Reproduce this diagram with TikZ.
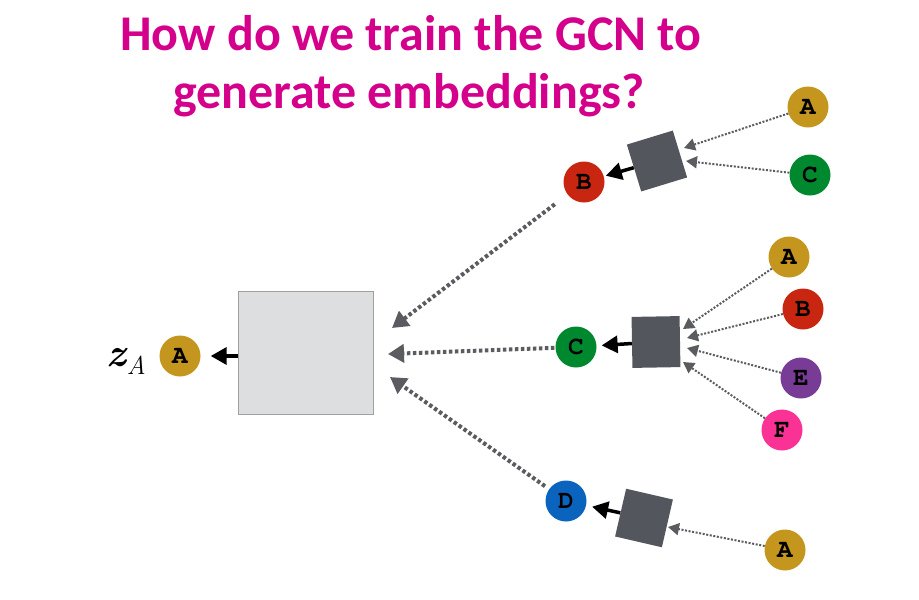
\documentclass[tikz,border=0pt]{standalone}
\usepackage{fontspec}
\usetikzlibrary{arrows.meta}
\newfontfamily\titlefont{Carlito}
\newfontfamily\cursorfont{TeX Gyre Cursor}
\definecolor{ttlmag}{RGB}{212,0,140}
\definecolor{cgold}{RGB}{196,150,30}
\definecolor{cred}{RGB}{200,38,16}
\definecolor{cgreen}{RGB}{0,136,46}
\definecolor{cblue}{RGB}{10,100,190}
\definecolor{cpurple}{RGB}{120,60,150}
\definecolor{cpink}{RGB}{250,50,150}
\definecolor{sqdark}{RGB}{83,87,93}
\definecolor{sqlight}{RGB}{221,222,224}
\definecolor{sqborder}{RGB}{160,160,160}
\definecolor{dotgray}{RGB}{90,92,96}
\tikzset{
  gnode/.style={circle,minimum size=41pt,inner sep=0pt,text=black,
    font=\cursorfont\bfseries\fontsize{26}{26}\selectfont},
  dsq/.style={rectangle,fill=sqdark,minimum width=48pt,minimum height=49pt,inner sep=0pt},
  smalldot/.style={draw=dotgray,line width=2pt,dash pattern=on 2pt off 1.6pt,
    -{Triangle[length=11pt,width=12pt,fill=dotgray]}},
  bigdot/.style={draw=dotgray,line width=4pt,dash pattern=on 3.5pt off 2.5pt,
    -{Triangle[length=16pt,width=18pt,fill=dotgray]}},
  blk/.style={draw=black,line width=3.5pt,-{Triangle[length=16pt,width=17pt]}},
}
\begin{document}
\begin{tikzpicture}[x=1pt,y=1pt]
\useasboundingbox (0,0) rectangle (919,-600);
% title
\node[anchor=base,text=ttlmag,font=\titlefont\bfseries\fontsize{50}{50}\selectfont,inner sep=0pt] (title1) at (411,-50) {How do we train the GCN to};
\node[anchor=base,text=ttlmag,font=\titlefont\bfseries\fontsize{50}{50}\selectfont,inner sep=0pt] (title2) at (409,-108) {generate embeddings?};
% big square
\node[rectangle,fill=sqlight,draw=sqborder,line width=1pt,minimum width=135pt,minimum height=123pt,inner sep=0pt] (big) at (305.5,-352.5) {};
% target node
\node[gnode,fill=cgold] (A0) at (180,-356) {A};
\node[anchor=base east,inner sep=0pt] (zA) at (146,-366) {\fontsize{40}{40}\selectfont\bfseries\itshape z\kern1pt\raisebox{-8pt}{\fontsize{26}{26}\selectfont\mdseries\itshape A}};
\draw[blk,shorten >=10pt] (big.west |- A0) -- (A0);
% level-1 nodes
\node[gnode,fill=cred] (B1) at (584,-182) {B};
\node[gnode,fill=cgreen] (C1) at (576,-347) {C};
\node[gnode,fill=cblue] (D1) at (566,-501) {D};
% small squares
\node[dsq,rotate=17] (s1) at (657,-161) {};
\node[dsq,rotate=1,minimum height=51pt] (s2) at (656,-342) {};
\node[dsq,rotate=-13] (s3) at (644,-518) {};
\draw[blk,shorten >=2pt] (s1) -- (B1);
\draw[blk,shorten >=5pt] (s2) -- (C1);
\draw[blk,shorten >=6pt] (s3) -- (D1);
% big dotted arrows
\coordinate (tB) at (392,-328);
\coordinate (tC) at (388,-354);
\coordinate (tD) at (390,-377);
\draw[bigdot,shorten <=16pt] (B1) -- (tB);
\draw[bigdot,shorten <=1pt] (C1) -- (tC);
\draw[bigdot,shorten <=5pt] (D1) -- (tD);
% leaves top
\node[gnode,fill=cgold] (LA1) at (808,-107) {A};
\node[gnode,fill=cgreen] (LC1) at (810,-175) {C};
\coordinate (t1a) at (684,-148);
\coordinate (t1c) at (686,-161);
\draw[smalldot] (LA1) -- (t1a);
\draw[smalldot] (LC1) -- (t1c);
% leaves middle
\node[gnode,fill=cgold] (LA2) at (789,-257) {A};
\node[gnode,fill=cred] (LB2) at (803,-309) {B};
\node[gnode,fill=cpurple] (LE2) at (801,-378) {E};
\node[gnode,fill=cpink] (LF2) at (782,-430) {F};
\coordinate (t2a) at (683,-329);
\coordinate (t2b) at (687,-338);
\coordinate (t2e) at (687,-348);
\coordinate (t2f) at (683,-362);
\draw[smalldot] (LA2) -- (t2a);
\draw[smalldot] (LB2) -- (t2b);
\draw[smalldot] (LE2) -- (t2e);
\draw[smalldot] (LF2) -- (t2f);
% leaves bottom
\node[gnode,fill=cgold] (LA3) at (785,-550) {A};
\coordinate (t3a) at (668,-527);
\draw[smalldot] (LA3) -- (t3a);
\end{tikzpicture}
\end{document}
